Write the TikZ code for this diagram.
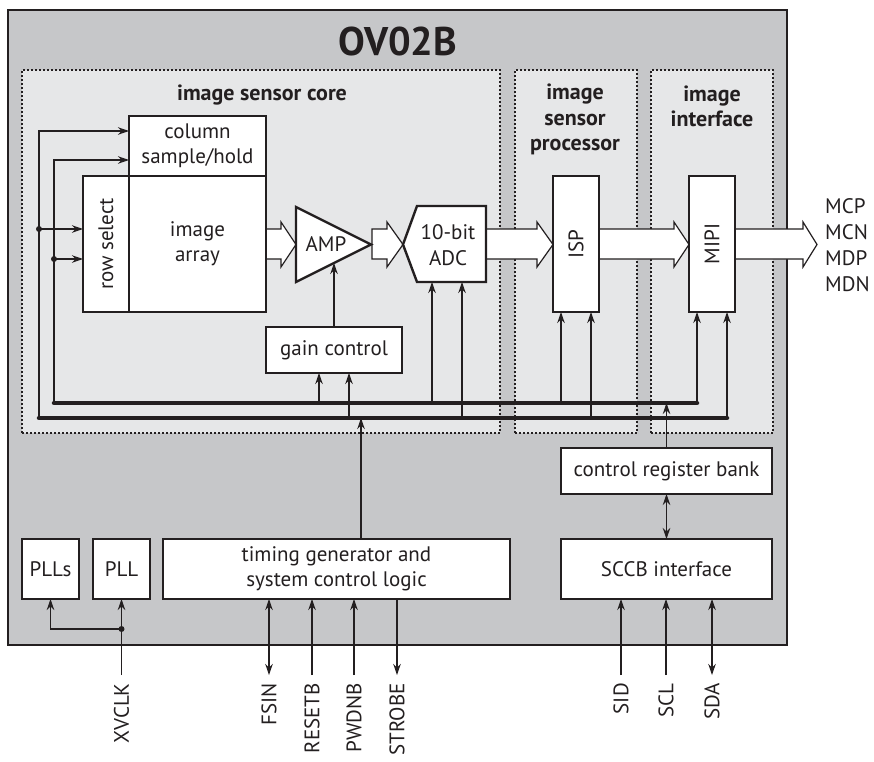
\documentclass[tikz,border=0pt]{standalone}
\usepackage{fontspec}
\usepackage{graphicx}
\setmainfont{PT Sans}
\usetikzlibrary{arrows.meta,calc}
\definecolor{chipgray}{HTML}{C6C7C9}
\definecolor{regiongray}{HTML}{E6E7E8}
\definecolor{ink}{HTML}{231F20}
\tikzset{
  box/.style={draw=ink,line width=2.4pt,fill=white,inner sep=0pt,outer sep=0pt,
    font=\fontsize{21}{25}\selectfont,align=center,text=ink},
  region/.style={draw=ink,line width=2pt,dash pattern=on 2pt off 2pt,fill=regiongray,
    inner sep=0pt,outer sep=0pt},
  wire/.style={draw=ink,line width=1.1pt},
  conn/.style={wire,-{Stealth[length=11pt,width=7.5pt,inset=3.5pt]}},
  dconn/.style={wire,{Stealth[length=11pt,width=7.5pt,inset=3.5pt]}-{Stealth[length=11pt,width=7.5pt,inset=3.5pt]}},
  bus/.style={draw=ink,line width=4.5pt,line cap=round},
  fat/.style={draw=ink,line width=1.2pt,fill=white,line join=miter},
  shape2/.style={draw=ink,line width=2.4pt,fill=white,line join=miter},
  lbl/.style={font=\fontsize{21}{26}\selectfont,text=ink,inner sep=0pt},
  pin/.style={lbl,rotate=90,anchor=east},
  head/.style={font=\bfseries\fontsize{22}{25.5}\selectfont,align=center,text=ink,inner sep=0pt},
  jdot/.style={circle,fill=ink,inner sep=0pt,minimum size=6pt}
}
\begin{document}
\begin{tikzpicture}[x=1pt,y=-1pt]
\useasboundingbox (0,0) rectangle (874,761);
% chip
\node[draw=ink,fill=chipgray,line width=2.4pt,minimum width=779pt,minimum height=635pt,inner sep=0pt] (chip) at (397.5,327.5) {};
% regions
\node[region,minimum width=478pt,minimum height=363pt] (core) at (261,251.5) {};
\node[region,minimum width=122pt,minimum height=363pt] (ispreg) at (576,251.5) {};
\node[region,minimum width=122pt,minimum height=363pt] (ifcreg) at (712,251.5) {};
% titles
\node[font=\bfseries\fontsize{40}{40}\selectfont,text=ink,inner sep=0pt] (title) at (398,41) {OV02B};
\node[head] (hcore) at (262,95) {image sensor core};
\node[head] (hisp) at (575,119.5) {image\\sensor\\processor};
\node[head] (hifc) at (712,106.5) {image\\interface};
% buses
\coordinate (busU) at (54,403);
\coordinate (busL) at (39,418);
\coordinate (busUe) at (697,403);
\coordinate (busLe) at (727,418);
\draw[bus] (busU) -- (busUe);
\draw[bus] (busL) -- (busLe);
% block arrows
\filldraw[fat] (266,229) -- (281,229) -- (281,222) -- (296,244.5) -- (281,267) -- (281,259) -- (266,259);
\filldraw[fat] (372,229) -- (387,229) -- (387,222) -- (403,244.5) -- (387,267) -- (387,259) -- (372,259) -- cycle;
\filldraw[fat] (486,229) -- (537,229) -- (537,222) -- (553,244.5) -- (537,267) -- (537,259) -- (486,259);
\filldraw[fat] (599,229) -- (674,229) -- (674,222) -- (689,244.5) -- (674,267) -- (674,259) -- (599,259);
\filldraw[fat] (735,229) -- (803,229) -- (803,222) -- (817,244.5) -- (803,267) -- (803,259) -- (735,259);
% boxes
\node[box,minimum width=137pt,minimum height=60pt] (colsh) at (197.5,146) {column\\sample/hold};
\node[box,minimum width=46pt,minimum height=136pt] (rowsel) at (106,244) {\rotatebox{90}{row select}};
\node[box,minimum width=137pt,minimum height=136pt] (array) at (197.5,244) {image\\array};
\node[box,minimum width=136pt,minimum height=46pt] (gain) at (334,350) {gain control};
\node[box,minimum width=46pt,minimum height=136pt] (isp) at (576,244) {\rotatebox{90}{ISP}};
\node[box,minimum width=46pt,minimum height=136pt] (mipi) at (712,244) {\rotatebox{90}{MIPI}};
\node[box,minimum width=211pt,minimum height=46pt] (crb) at (666.5,471) {control register bank};
\node[box,minimum width=211pt,minimum height=60pt] (sccb) at (666.5,569) {SCCB interface};
\node[box,minimum width=347pt,minimum height=60pt] (timing) at (336.5,569) {timing generator and\\system control logic};
\node[box,minimum width=57pt,minimum height=60pt] (plls) at (50.5,569) {PLLs};
\node[box,minimum width=57pt,minimum height=60pt] (pll) at (121.5,569) {PLL};
% AMP and ADC shapes
\coordinate (ampA) at (296,207);
\coordinate (ampB) at (371,244.5);
\coordinate (ampC) at (296,282);
\draw[shape2] (ampA) -- (ampB) -- (ampC) -- cycle;
\node[lbl] (amp) at (326,244.5) {AMP};
\coordinate (adcW) at (403,244.5);
\coordinate (adcNW) at (417,206);
\coordinate (adcNE) at (486,206);
\coordinate (adcSE) at (486,282);
\coordinate (adcSW) at (417,282);
\draw[shape2] (adcW) -- (adcNW) -- (adcNE) -- (adcSE) -- (adcSW) -- cycle;
\node[lbl,align=center] (adc) at (448,245) {10-bit\\ADC};
% left control wires
\draw[conn] (busL) |- ([yshift=15pt]colsh.west);
\draw[conn] (busU) |- ([yshift=-14pt]colsh.west);
\node[jdot] (d1) at (39,229) {};
\node[jdot] (d2) at (54,259) {};
\draw[conn] (d1.center) -- (rowsel.west |- d1.center);
\draw[conn] (d2.center) -- (rowsel.west |- d2.center);
% bus taps
\draw[conn] (319,0 |- busU) -- (319,0 |- gain.south);
\draw[conn] (349,0 |- busL) -- (349,0 |- gain.south);
\coordinate (ampbot) at (334,263);
\draw[conn] (gain.north) -- (ampbot);
\draw[conn] (432,0 |- busU) -- (432,0 |- adcSE);
\draw[conn] (462,0 |- busL) -- (462,0 |- adcSE);
\draw[conn] (561,0 |- busU) -- (561,0 |- isp.south);
\draw[conn] (591,0 |- busL) -- (591,0 |- isp.south);
\draw[conn] (busUe) -- (697,0 |- mipi.south);
\draw[conn] (busLe) -- (727,0 |- mipi.south);
\draw[conn] (crb.north) -- (crb.north |- busU);
\draw[dconn] (crb.south) -- (sccb.north);
\draw[conn] (361,0 |- timing.north) -- (361,0 |- busL);
% pins
\coordinate (pXV) at (121.5,675);
\coordinate (pFS) at (269,675);
\coordinate (pRS) at (312,675);
\coordinate (pPW) at (354,675);
\coordinate (pST) at (397,675);
\coordinate (pSID) at (621,675);
\coordinate (pSCL) at (666,675);
\coordinate (pSDA) at (712,675);
\draw[conn] (pXV) -- (pll.south);
\node[jdot] (d3) at (121.5,629) {};
\draw[conn] (d3.center) -| (plls.south);
\draw[dconn] (pFS) -- (pFS |- timing.south);
\draw[conn] (pRS) -- (pRS |- timing.south);
\draw[conn] (pPW) -- (pPW |- timing.south);
\draw[conn] (pST |- timing.south) -- (pST);
\draw[conn] (pSID) -- (pSID |- sccb.south);
\draw[conn] (pSCL) -- (pSCL |- sccb.south);
\draw[dconn] (pSDA) -- (pSDA |- sccb.south);
\node[pin] (lXV) at (121.5,683) {XVCLK};
\node[pin] (lFS) at (269,683) {FSIN};
\node[pin] (lRS) at (312,683) {RESETB};
\node[pin] (lPW) at (354,683) {PWDNB};
\node[pin] (lST) at (397,683) {STROBE};
\node[pin] (lSID) at (621,683) {SID};
\node[pin] (lSCL) at (666,683) {SCL};
\node[pin] (lSDA) at (712,683) {SDA};
\node[lbl,align=left,anchor=west] (mout) at (825,245) {MCP\\MCN\\MDP\\MDN};
\end{tikzpicture}
\end{document}
